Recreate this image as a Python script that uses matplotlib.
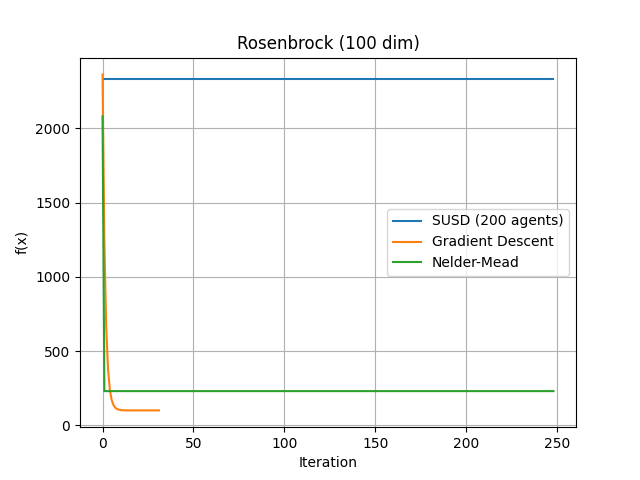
import matplotlib
matplotlib.use('Agg')
import matplotlib.pyplot as plt
import numpy as np

# values
susd_level = 2330.0
susd_iters = 249
susd = [susd_level] * susd_iters

grad_descent = [2364, 1232, 666, 383, 241, 171, 136, 118, 109, 104.5,
                102.3, 101.2, 100.6, 100.3, 100.2, 100.1, 100.0, 100.0,
                100.0, 100.0, 100.0, 100.0, 100.0, 100.0, 100.0, 100.0,
                100.0, 100.0, 100.0, 100.0, 100.0, 100.0]

nelder_start = 2081.0
nelder_level = 230.0
nelder_mead = [nelder_start] + [nelder_level] * (susd_iters - 1)

labels = ['SUSD (200 agents)', 'Gradient Descent', 'Nelder-Mead']


def plot_figure():
    fig, ax = plt.subplots(figsize=(6.4, 4.8), dpi=100)

    ax.plot(np.arange(len(susd)), susd, label=labels[0])
    ax.plot(np.arange(len(grad_descent)), grad_descent, label=labels[1])
    ax.plot(np.arange(len(nelder_mead)), nelder_mead, label=labels[2])

    ax.set_title('Rosenbrock (100 dim)')
    ax.set_xlabel('Iteration')
    ax.set_ylabel('f(x)')
    ax.grid(True)
    ax.legend(loc='center right')

    plt.savefig('out.png')


if __name__ == '__main__':
    plot_figure()
